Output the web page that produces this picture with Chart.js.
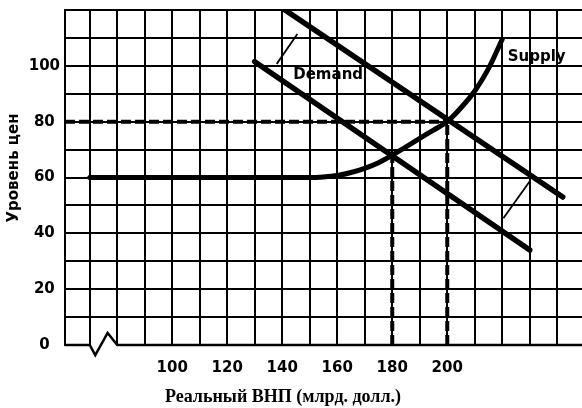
<!DOCTYPE html>
<html>
<head>
<meta charset="utf-8">
<script src="https://cdn.jsdelivr.net/npm/chart.js@4"></script>
<style>
html,body{margin:0;padding:0;background:#fff;}
canvas{display:block;}
</style>
</head>
<body>
<canvas id="c" width="582" height="408"></canvas>
<script>
// ---- data ----
const xTickValues = [70,80,90,100,110,120,130,140,150,160,170,180,190,200,210,220,230,240];
const xTickLabels = ['','','','100','','120','','140','','160','','180','','200','','','',''];
const yTickValues = [0,10,20,30,40,50,60,70,80,90,100,110,120];
const yTickLabels = ['0','','20','','40','','60','','80','','100','',''];

const supplyX = [70,150,155,160,165,170,175,180,185,190,195,200,205,210,215,220];
const supplyY = [60,60,60.2,60.7,61.8,63.3,65.3,68,71,74,77,80,85,91,99,109.5];

const demand1X = [130,230];
const demand1Y = [101.5,34];
const demand2X = [141,242];
const demand2Y = [120,53];

const shiftAX = [138,145.5];
const shiftAY = [100.7,111.4];
const shiftBX = [220.4,230.2];
const shiftBY = [45.4,58.9];

const guide80X = [61,200];
const guide80Y = [80,80];
const guide180X = [180,180];
const guide180Y = [0,68];
const guide200X = [200,200];
const guide200Y = [0,80];

const axisX = [61,70,72,76.5,80,249];
const axisY = [0,0,-3.6,4.3,0,0];

const xTitle = 'Реальный ВНП (млрд. долл.)';
const yTitle = 'Уровень цен';

const curveLabels = [
  {text:'Supply', x:222, y:103},
  {text:'Demand', x:144, y:96.5}
];

const pts = (xs, ys) => xs.map((v,i)=>({x:v, y:ys[i]}));

const lineDs = (xs, ys, w, extra) => Object.assign({
  data: pts(xs, ys), showLine: true, borderColor:'#000', backgroundColor:'#000',
  borderWidth: w, pointRadius: 0, fill: false, tension: 0, borderCapStyle:'butt'
}, extra || {});

const labelsPlugin = {
  id: 'curveLabels',
  afterDatasetsDraw(chart) {
    const {ctx, scales:{x, y}} = chart;
    ctx.save();
    ctx.font = 'bold 15px "DejaVu Sans"';
    ctx.fillStyle = '#000';
    ctx.textBaseline = 'middle';
    ctx.textAlign = 'left';
    curveLabels.forEach(l => ctx.fillText(l.text, x.getPixelForValue(l.x), y.getPixelForValue(l.y)));
    // x axis title
    ctx.font = 'bold 18px "Liberation Serif"';
    ctx.textAlign = 'center';
    ctx.fillText(xTitle, 283, 397);
    // y axis title
    ctx.font = 'bold 15px "DejaVu Sans"';
    ctx.translate(14, 168);
    ctx.rotate(-Math.PI / 2);
    ctx.fillText(yTitle, 0, 0);
    ctx.restore();
  }
};

new Chart(document.getElementById('c'), {
  type: 'scatter',
  data: {
    datasets: [
      lineDs(axisX, axisY, 2.5, {clip: false}),
      lineDs(guide80X, guide80Y, 4, {borderDash:[10,4]}),
      lineDs(guide180X, guide180Y, 4, {borderDash:[10,4]}),
      lineDs(guide200X, guide200Y, 4, {borderDash:[10,4]}),
      lineDs(shiftAX, shiftAY, 1.8),
      lineDs(shiftBX, shiftBY, 1.8),
      lineDs(supplyX, supplyY, 5, {cubicInterpolationMode:'monotone', borderCapStyle:'round'}),
      lineDs(demand1X, demand1Y, 5.5, {borderCapStyle:'round'}),
      lineDs(demand2X, demand2Y, 5.5, {borderCapStyle:'round'})
    ]
  },
  options: {
    responsive: false,
    animation: false,
    devicePixelRatio: 1,
    layout: {padding: {top: 10, right: 0, left: 0, bottom: 0}},
    plugins: {legend: {display: false}, tooltip: {enabled: false}},
    scales: {
      x: {
        type: 'linear', min: 61, max: 249,
        afterBuildTicks: s => { s.ticks = xTickValues.map(v => ({value: v})); },
        afterFit: s => { s.height = 63; s.paddingLeft = 0; s.paddingRight = 0; },
        grid: {color:'#000', lineWidth: 2, drawTicks: false},
        border: {display: false},
        ticks: {
          autoSkip: false, maxRotation: 0, padding: 14, color:'#000',
          font: {family:'DejaVu Sans', weight:'bold', size: 15},
          callback: (v) => xTickLabels[xTickValues.indexOf(v)] || ''
        }
      },
      y: {
        type: 'linear', min: 0, max: 120,
        afterBuildTicks: s => { s.ticks = yTickValues.map(v => ({value: v})); },
        afterFit: s => { s.width = 65; s.paddingTop = 0; s.paddingBottom = 0; },
        grid: {
          color: c => (c.tick && c.tick.value === 0) ? 'rgba(0,0,0,0)' : '#000',
          lineWidth: 2, drawTicks: false
        },
        border: {display: true, color:'#000', width: 2},
        ticks: {
          autoSkip: false, padding: 5, crossAlign: 'center', color:'#000',
          font: {family:'DejaVu Sans', weight:'bold', size: 15},
          callback: (v) => yTickLabels[yTickValues.indexOf(v)] || ''
        }
      }
    }
  },
  plugins: [labelsPlugin]
});
</script>
</body>
</html>
